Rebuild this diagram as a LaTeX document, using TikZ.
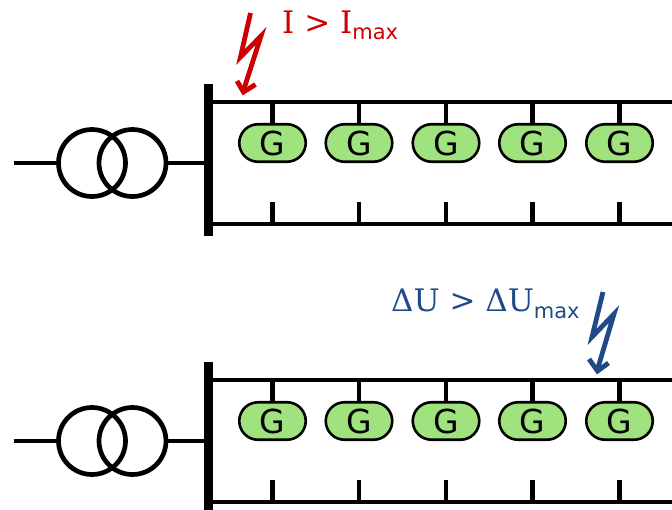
\documentclass[tikz,border=0pt]{standalone}
\usepackage{fontspec}
\setmainfont{DejaVu Sans}
\newfontfamily\serifdv{DejaVu Serif}
\newcommand{\maxsub}{\raisebox{-6.5pt}{\fontsize{21pt}{21pt}\selectfont\fontspec{DejaVu Sans}max}}
\definecolor{genfill}{HTML}{A0E27E}
\definecolor{redbolt}{HTML}{CC0000}
\definecolor{bluebolt}{HTML}{204A87}
\usetikzlibrary{shapes.misc}
\tikzset{
  wire/.style={line width=4.6pt,black},
  bar/.style={line width=9.5pt,black},
  coil/.style={draw=black,line width=4.7pt,circle,minimum size=67pt,inner sep=0pt},
  gen/.style={draw=black,line width=2.6pt,fill=genfill,rounded rectangle,minimum width=66.5pt,minimum height=37.5pt,inner sep=0pt,font=\fontsize{33pt}{33pt}\selectfont},
  bolt/.style={line width=4.8pt,miter limit=10},
  lab/.style={inner sep=0pt,anchor=base west,font=\fontsize{31pt}{31pt}\serifdv},
}
\newcommand{\panel}[1]{%
  \begin{scope}[yshift=-#1pt]
    \coordinate (in) at (14,163);
    \node[coil] (c1) at (92,163) {};
    \node[coil] (c2) at (132.5,163) {};
    \coordinate (bt) at (208.5,84);
    \coordinate (bb) at (208.5,236);
    \coordinate (bm) at (208.5,163);
    \draw[bar] (bt) -- (bb);
    \draw[wire] (in) -- (c1.west);
    \draw[wire] (c2.east) -- (bm);
    \coordinate (ta) at (208.5,102);
    \coordinate (tb) at (672,102);
    \coordinate (la) at (208.5,224);
    \coordinate (lb) at (672,224);
    \draw[wire] (ta) -- (tb);
    \draw[wire] (la) -- (lb);
    \foreach \n/\x in {a/272.5,b/359,c/446,d/532.5,e/619.5}{
      \node[gen] (g\n) at (\x,143) {G};
      \coordinate (s\n) at (\x,102);
      \draw[wire] (s\n) -- (g\n.north);
      \coordinate (u\n) at (\x,202);
      \coordinate (v\n) at (\x,224);
      \draw[wire] (u\n) -- (v\n);
    }
  \end{scope}}
\begin{document}
\begin{tikzpicture}[x=1pt,y=-1pt]
\useasboundingbox (0,0) rectangle (672,509);
\panel{0}
\panel{278}
% red bolt
\draw[bolt,redbolt] (250.5,13) -- (240.5,57) -- (261,36) -- (243,92);
\draw[bolt,redbolt,line join=miter] (237,81) -- (243.5,92) -- (255.5,84.5);
\node[lab,text=redbolt] (l1) at (282,33) {I > I\maxsub};
% blue bolt
\draw[bolt,bluebolt] (603,292) -- (592,337) -- (614,314) -- (597,371);
\draw[bolt,bluebolt] (589,359) -- (597.5,371) -- (608.5,363);
\node[lab,text=bluebolt] (l2) at (391,311.5) {ΔU > ΔU\maxsub};
\end{tikzpicture}
\end{document}
